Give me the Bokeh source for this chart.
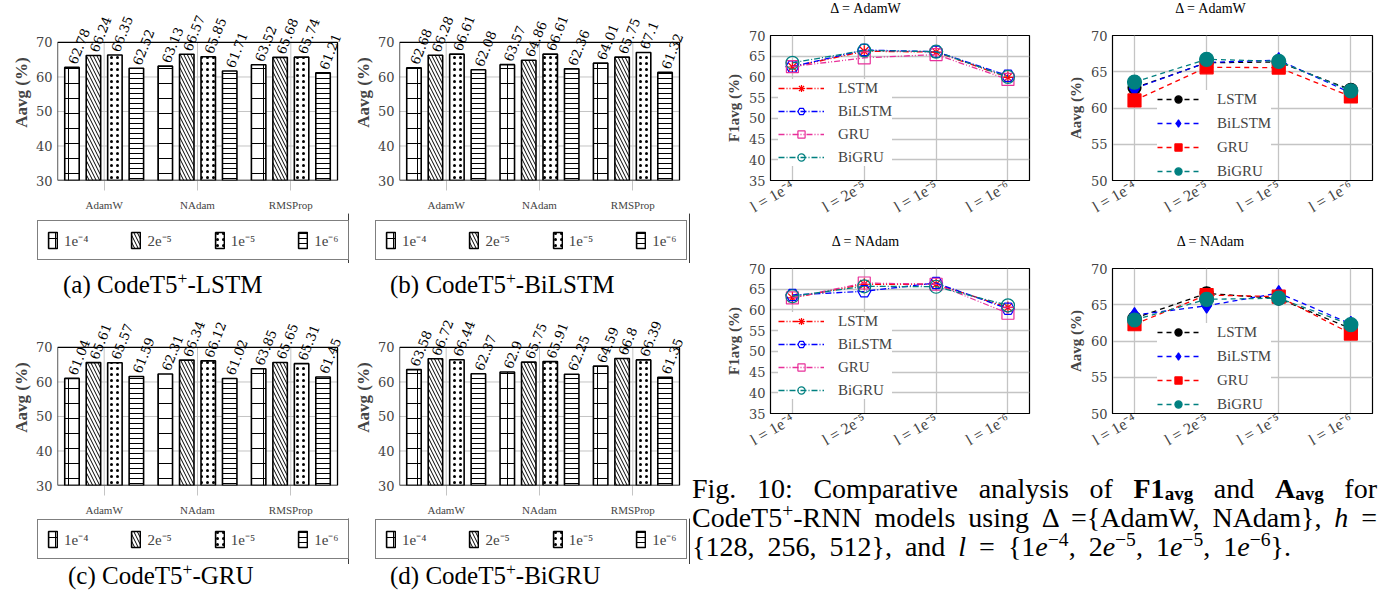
import math
from bokeh.plotting import figure
from bokeh.models import (ColumnDataSource, Range1d, Legend, LegendItem,
                          LabelSet, FixedTicker, Div, BoxAnnotation, Title)
from bokeh.layouts import row, column
from bokeh.transform import dodge
from bokeh.embed import file_html
from bokeh.resources import INLINE
from bokeh.core.properties import value

# ---------------- data ----------------
optimizers = ["AdamW", "NAdam", "RMSProp"]
lr_legend = ["1e\u207b\u2074", "2e\u207b\u2075", "1e\u207b\u2075", "1e\u207b\u2076"]
lr_ticks = ["l = 1e\u207b\u2074", "l = 2e\u207b\u2075", "l = 1e\u207b\u2075", "l = 1e\u207b\u2076"]
lr_index = [0, 1, 2, 3]
models = ["LSTM", "BiLSTM", "GRU", "BiGRU"]
bar_yticks = [30, 40, 50, 60, 70]

# A_avg (%) per learning rate; values for [AdamW, NAdam, RMSProp]
lstm_1e4 = [62.78, 63.13, 63.52]
lstm_2e5 = [66.24, 66.57, 65.68]
lstm_1e5 = [66.35, 65.85, 65.74]
lstm_1e6 = [62.52, 61.71, 61.21]

bilstm_1e4 = [62.68, 63.57, 64.01]
bilstm_2e5 = [66.28, 64.86, 65.75]
bilstm_1e5 = [66.61, 66.61, 67.1]
bilstm_1e6 = [62.08, 62.36, 61.32]

gru_1e4 = [61.04, 62.31, 63.85]
gru_2e5 = [65.61, 66.34, 65.65]
gru_1e5 = [65.57, 66.12, 65.31]
gru_1e6 = [61.59, 61.02, 61.45]

bigru_1e4 = [63.58, 62.9, 64.59]
bigru_2e5 = [66.72, 65.75, 66.8]
bigru_1e5 = [66.44, 65.91, 66.39]
bigru_1e6 = [62.37, 62.25, 61.35]

# F1_avg (%) per learning rate (1e-4, 2e-5, 1e-5, 1e-6)
f1_adamw_lstm = [62.4, 66.2, 66.0, 59.9]
f1_adamw_bilstm = [62.5, 66.5, 66.1, 60.3]
f1_adamw_gru = [62.5, 64.6, 65.4, 59.4]
f1_adamw_bigru = [63.4, 66.4, 66.1, 60.0]

f1_nadam_lstm = [62.9, 66.2, 66.2, 60.6]
f1_nadam_bilstm = [63.6, 64.5, 66.5, 60.3]
f1_nadam_gru = [62.9, 66.5, 66.2, 59.2]
f1_nadam_bigru = [63.3, 65.7, 65.6, 61.1]

SERIF = "Liberation Serif"
NUMF = "DejaVu Serif"
GRID = "#c4c4c4"

acc_groups = [
    (lstm_1e4, lstm_2e5, lstm_1e5, lstm_1e6),
    (bilstm_1e4, bilstm_2e5, bilstm_1e5, bilstm_1e6),
    (gru_1e4, gru_2e5, gru_1e5, gru_1e6),
    (bigru_1e4, bigru_2e5, bigru_1e5, bigru_1e6),
]
group_idx = list(range(len(optimizers)))
x_lo, x_hi = -0.5, len(optimizers) - 0.5


def acc_series(k):
    return [[g[0][k], g[1][k], g[2][k], g[3][k]] for g in acc_groups]


HATCHES = ["cross", "left_diagonal_line", "dot", "horizontal_line"]
HSCALES = [15.0, 7.0, 6.0, 5.0]
BAR_STYLE = dict(fill_color="white", line_color="black", line_width=1.6,
                 hatch_color="black", hatch_weight=1.0)


# ---------------- bar charts ----------------
def bar_chart(series, lb, rb):
    # frame reaches 12 px beyond the 30-70 box on the right so rotated labels are not cut
    extra = 12 / (280 / len(optimizers))
    p = figure(x_range=Range1d(x_lo, x_hi + extra), y_range=Range1d(30, 81),
               frame_width=292, frame_height=176,
               min_border_left=lb, min_border_right=rb, min_border_top=4, min_border_bottom=31,
               output_backend="svg", toolbar_location=None)
    gsrc = ColumnDataSource(dict(g=group_idx))
    p.segment(x0="g", y0=bar_yticks[0], x1="g", y1=bar_yticks[-1], source=gsrc,
              line_color=GRID, line_width=1)
    ysrc = ColumnDataSource(dict(y=bar_yticks))
    p.segment(x0=x_lo, y0="y", x1=x_hi, y1="y", source=ysrc, line_color=GRID, line_width=1)
    offsets = [-0.345, -0.115, 0.115, 0.345]
    for vals, off, hp, hs in zip(series, offsets, HATCHES, HSCALES):
        src = ColumnDataSource(dict(g=group_idx, v=list(vals), t=[f"{x:g}" for x in vals]))
        xs = dodge("g", off)
        p.vbar(x=xs, top="v", bottom=bar_yticks[0], width=0.155, source=src,
               hatch_pattern=hp, hatch_scale=hs, **BAR_STYLE)
        p.add_layout(LabelSet(x=xs, y="v", text="t", source=src, angle=1.19,
                              text_align="left", text_baseline="middle", y_offset=4,
                              text_font=value(NUMF), text_font_size=value("13px"),
                              text_color="black"))
    p.add_layout(BoxAnnotation(bottom=bar_yticks[0], top=bar_yticks[-1], left=x_lo, right=x_hi,
                               fill_alpha=0, line_color="black", line_width=1.3, line_alpha=1))
    p.add_layout(Title(text="Aavg (%)", align="center", offset=-19, text_font=SERIF,
                       text_font_style="bold", text_font_size="17px", standoff=4), "left")

    p.outline_line_color = None
    p.xgrid.grid_line_color = None
    p.ygrid.grid_line_color = None
    p.yaxis.ticker = FixedTicker(ticks=bar_yticks)
    p.yaxis.bounds = (bar_yticks[0], bar_yticks[-1])
    p.yaxis.major_label_text_font = NUMF
    p.yaxis.major_label_text_font_size = "13px"
    p.yaxis.major_tick_in = 0
    p.yaxis.major_tick_out = 0
    p.yaxis.minor_tick_line_color = None
    p.yaxis.axis_line_color = None
    p.xaxis.ticker = FixedTicker(ticks=group_idx)
    p.xaxis.major_label_overrides = {i: o for i, o in zip(group_idx, optimizers)}
    p.xaxis.minor_tick_line_color = None
    p.xaxis.major_label_text_font = SERIF
    p.xaxis.major_label_text_font_size = "11px"
    p.xaxis.major_tick_in = 0
    p.xaxis.major_tick_out = 10
    p.xaxis.major_tick_line_color = GRID
    p.xaxis.major_label_standoff = 8
    p.xaxis.axis_line_color = None
    p.background_fill_color = "white"
    p.border_fill_color = "white"
    return p


def bar_legend(w, h, lx, ly):
    p = figure(width=w, height=h, x_range=Range1d(0, 1), y_range=Range1d(0, 1),
               x_axis_type=None, y_axis_type=None, min_border=0,
               output_backend="svg", toolbar_location=None)
    p.grid.visible = False
    p.outline_line_color = None
    items = []
    for hp, hs, lab in zip(HATCHES, HSCALES, lr_legend):
        # legend-only renderer: its single bar lies outside the visible range
        r = p.vbar(x=[2], top=[2], width=0.1, hatch_pattern=hp, hatch_scale=hs, **BAR_STYLE)
        items.append(LegendItem(label=lab, renderers=[r]))
    leg = Legend(items=items, orientation="horizontal", location=(lx, ly),
                 border_line_color="black", border_line_width=1, glyph_width=11,
                 glyph_height=20, label_text_font=SERIF, label_text_font_size="15px",
                 spacing=42, padding=9, margin=0, label_standoff=6, label_height=18)
    p.add_layout(leg)
    return p


# ---------------- line charts ----------------
f1_styles = [
    dict(color="#ff0000", dash="6 2 1 2 1 2", marker="asterisk", size=12, fill=False),
    dict(color="#0000ff", dash="6 2 1 2", marker="hex", size=13, fill=False),
    dict(color="#e8309a", dash="6 2 1 2 1 2", marker="square", size=12, fill=False),
    dict(color="#008080", dash="6 2 1 2", marker="circle", size=13, fill=False),
]
a_styles = [
    dict(color="#000000", dash="5 4", marker="circle", size=13, fill=True),
    dict(color="#0000ff", dash="5 4", marker="diamond", size=15, fill=True),
    dict(color="#ff0000", dash="5 4", marker="square", size=13, fill=True),
    dict(color="#008080", dash="5 4", marker="circle", size=14, fill=True),
]


def line_chart(data, kind, lb, rb, fw):
    if kind == "f1":
        yr, yt, ylab, styles = (35, 70), [35, 40, 45, 50, 55, 60, 65, 70], "F1avg (%)", f1_styles
    else:
        yr, yt, ylab, styles = (50, 70), [50, 55, 60, 65, 70], "Aavg (%)", a_styles
    p = figure(x_range=Range1d(-0.305, 3.3), y_range=Range1d(*yr),
               frame_width=fw, frame_height=145, min_border_left=lb, min_border_right=rb,
               min_border_top=18, min_border_bottom=53,
               output_backend="svg", toolbar_location=None)
    items = []
    for vals, st, name in zip(data, styles, models):
        src = ColumnDataSource(dict(x=lr_index, y=list(vals)))
        lr_ = p.line("x", "y", source=src, line_color=st["color"], line_dash=st["dash"],
                     line_width=1.3)
        sr = p.scatter("x", "y", source=src, marker=st["marker"], size=st["size"],
                       line_color=st["color"], line_width=1.2,
                       fill_color=st["color"] if st["fill"] else None)
        items.append(LegendItem(label=name, renderers=[lr_, sr]))
    if kind == "f1":
        leg = Legend(items=items, location=(8, 14), glyph_width=46, glyph_height=18,
                     spacing=5, padding=4, label_standoff=14)
    else:
        leg = Legend(items=items, location=(45, 0), glyph_width=42, glyph_height=18,
                     spacing=6, padding=10, label_standoff=18)
    leg.background_fill_color = "white"
    leg.background_fill_alpha = 1.0
    leg.border_line_color = None
    leg.margin = 0
    leg.label_text_font = SERIF
    leg.label_text_font_size = "15px"
    p.add_layout(leg)

    p.outline_line_color = "black"
    p.outline_line_width = 1.2
    p.xgrid.grid_line_color = GRID
    p.ygrid.grid_line_color = GRID
    p.xgrid.grid_line_width = 1.3
    p.ygrid.grid_line_width = 1.3
    p.xaxis.ticker = FixedTicker(ticks=lr_index)
    p.xaxis.major_label_overrides = {i: t for i, t in zip(lr_index, lr_ticks)}
    p.xaxis.major_label_orientation = math.pi / 6
    p.xaxis.major_label_text_font = SERIF
    p.xaxis.major_label_text_font_size = "16px"
    p.xaxis.major_tick_in = 0
    p.xaxis.major_tick_out = 0
    p.xaxis.minor_tick_line_color = None
    p.xaxis.major_label_standoff = 4
    p.yaxis.ticker = FixedTicker(ticks=yt)
    p.yaxis.major_label_text_font = NUMF
    p.yaxis.major_label_text_font_size = "13px"
    p.yaxis.major_tick_in = 0
    p.yaxis.major_tick_out = 0
    p.yaxis.minor_tick_line_color = None
    p.yaxis.axis_label = ylab
    p.yaxis.axis_label_text_font = SERIF
    p.yaxis.axis_label_text_font_style = "bold"
    p.yaxis.axis_label_text_font_size = "15px"
    p.yaxis.axis_label_standoff = 4
    p.xaxis.axis_line_color = "black"
    p.yaxis.axis_line_color = "black"
    return p


def chart_title(txt, w):
    return Div(text=f"<div style=\"font-family:'{SERIF}';font-size:14px;font-weight:normal;"
                    f"line-height:17px;text-align:center;width:{w}px;color:black;\">{txt}</div>",
               width=w, height=17, margin=(0, 0, 0, 0))


def sub_caption(txt, w, pad_left, dy, h):
    return Div(text=f"<div style=\"font-family:'{SERIF}';font-size:25px;line-height:28px;"
                    f"font-weight:normal;padding-left:{pad_left}px;position:relative;top:{dy}px;"
                    f"color:black;white-space:nowrap;\">{txt}</div>",
               width=w, height=h, margin=(0, 0, 0, 0))


fa = bar_chart(acc_groups[0], 57, 0)
fb = bar_chart(acc_groups[1], 48, 1)
fc = bar_chart(acc_groups[2], 57, 0)
fd = bar_chart(acc_groups[3], 48, 1)
la, lb_ = bar_legend(349, 50, 37, 3), bar_legend(341, 50, 26, 3)
lc, ld = bar_legend(349, 46, 37, 5), bar_legend(341, 46, 26, 5)

SP = "<sup style='font-size:70%'>+</sup>"
ca = sub_caption(f"(a) CodeT5{SP}-LSTM", 349, 63, 1, 42)
cb = sub_caption(f"(b) CodeT5{SP}-BiLSTM", 341, 41, 1, 42)
cc = sub_caption(f"(c) CodeT5{SP}-GRU", 349, 68, -9, 38)
cd = sub_caption(f"(d) CodeT5{SP}-BiGRU", 341, 41, -9, 38)

f1a = line_chart([f1_adamw_lstm, f1_adamw_bilstm, f1_adamw_gru, f1_adamw_bigru], "f1", 78, 10, 259)
aa = line_chart(acc_series(0), "acc", 73, 10, 260)
f1n = line_chart([f1_nadam_lstm, f1_nadam_bilstm, f1_nadam_gru, f1_nadam_bigru], "f1", 78, 10, 259)
an = line_chart(acc_series(1), "acc", 73, 10, 260)
t1, t2 = chart_title("\u0394 = AdamW", 347), chart_title("\u0394 = AdamW", 343)
t3, t4 = chart_title("\u0394 = NAdam", 347), chart_title("\u0394 = NAdam", 343)

sup = "style='font-size:70%;line-height:0'"
sub = "style='font-size:68%;line-height:0;vertical-align:-0.12em'"
caption_html = (
    f"<div style=\"font-family:'{SERIF}';font-size:28px;line-height:29px;color:black;"
    f"font-weight:normal;width:685px;padding-top:8px;\">"
    f"<div style='text-align:justify;text-align-last:justify;'>Fig. 10: Comparative analysis of "
    f"<b>F1<sub {sub}>avg</sub></b> and <b>A<sub {sub}>avg</sub></b> for</div>"
    f"<div style='text-align:justify;text-align-last:justify;'>CodeT5<sup {sup}>+</sup>-RNN models using "
    f"\u0394 ={{AdamW, NAdam}}, <i>h</i> =</div>"
    f"<div style='word-spacing:6px;'>{{128, 256, 512}}, and <i>l</i> = {{1<i>e</i><sup {sup}>\u22124</sup>, "
    f"2<i>e</i><sup {sup}>\u22125</sup>, 1<i>e</i><sup {sup}>\u22125</sup>, "
    f"1<i>e</i><sup {sup}>\u22126</sup>}}.</div></div>"
)
caption = Div(text=caption_html, width=690, height=120, margin=(0, 0, 0, 0))

left = column(row(fa, fb), row(la, lb_), row(ca, cb), row(fc, fd), row(lc, ld), row(cc, cd))
right = column(row(t1, t2), row(f1a, aa), row(t3, t4), row(f1n, an), caption)
layout = row(left, right)

open("out.html", "w").write(file_html(layout, INLINE, title="Fig. 10"))
